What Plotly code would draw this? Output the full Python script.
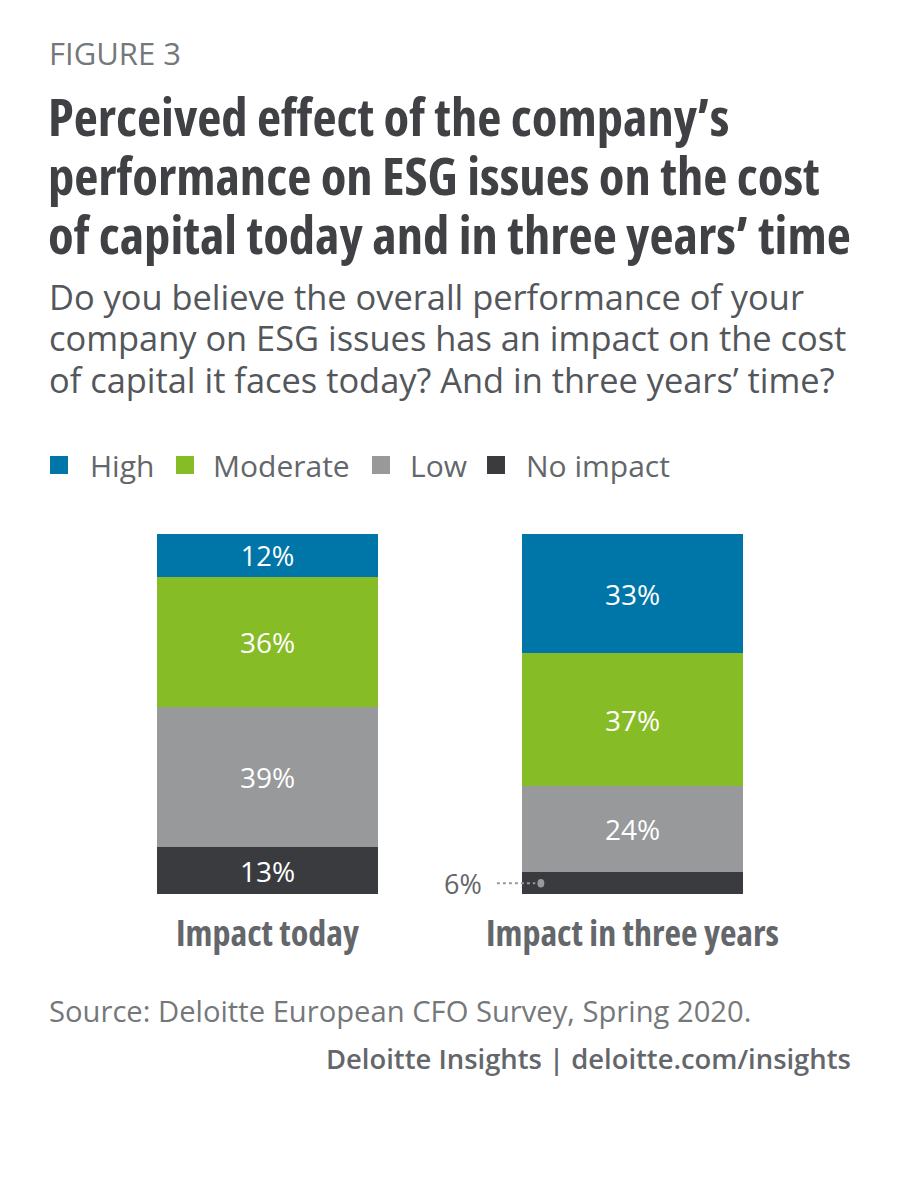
import plotly.graph_objects as go

categories = ["Impact today", "Impact in three years"]
series_names = ["No impact", "Low", "Moderate", "High"]
no_impact = [13, 6]
low = [39, 24]
moderate = [36, 37]
high = [12, 33]
colors = {"High": "#0076a8", "Moderate": "#86bc25", "Low": "#97999b", "No impact": "#3a3b3f"}
legend_order = ["High", "Moderate", "Low", "No impact"]

values = {"No impact": no_impact, "Low": low, "Moderate": moderate, "High": high}

SANS = "Open Sans, Noto Sans, sans-serif"
BAR_W = 0.603


def cond(t):
    return f"<span style=\"font-family:'Open Sans';font-stretch:75%;font-weight:700\">{t}</span>"


fig = go.Figure()
for name in series_names:
    vals = values[name]
    texts = [f"{v}%" if v >= 10 else "" for v in vals]
    fig.add_trace(go.Bar(
        x=categories, y=vals, name=name, marker=dict(color=colors[name], line=dict(width=0)),
        text=texts, textposition="inside", insidetextanchor="middle",
        textfont=dict(color="white", size=28, family=SANS), width=BAR_W,
        hoverinfo="skip",
    ))

small_idx = 1
small_val = no_impact[small_idx]
mid = small_val / 2
left_edge = small_idx - BAR_W / 2
fig.add_shape(type="line", xref="x", yref="y",
              x0=left_edge - 0.07, x1=left_edge + 0.035, y0=mid, y1=mid,
              line=dict(color="#97999b", width=2, dash="dot"))
fig.add_shape(type="circle", xref="x", yref="y",
              x0=left_edge + 0.041, x1=left_edge + 0.06, y0=mid - 1.2, y1=mid + 1.2,
              fillcolor="#97999b", line=dict(width=0))
fig.add_annotation(x=left_edge - 0.104, y=mid, xref="x", yref="y", text=f"{small_val}%",
                   showarrow=False, xanchor="right", yanchor="middle",
                   font=dict(size=27, color="#63666a", family=SANS))


def px_x(p):
    return (p - 85) / 730


def px_y(p):
    return (894 - p) / 360


legend_pos = [(50, 88), (176, 211), (372, 408), (487, 524)]
for (sq, tx), name in zip(legend_pos, legend_order):
    fig.add_shape(type="rect", xref="paper", yref="paper",
                  x0=px_x(sq), x1=px_x(sq + 18),
                  y0=px_y(474), y1=px_y(456),
                  fillcolor=colors[name], line=dict(width=0))
    fig.add_annotation(x=px_x(tx), y=px_y(465), xref="paper", yref="paper",
                       text=name, showarrow=False, xanchor="left", yanchor="middle",
                       font=dict(size=30, color="#63666a", family=SANS))

fig.add_annotation(x=px_x(47), y=px_y(53), xref="paper", yref="paper", text="FIGURE 3",
                   showarrow=False, xanchor="left", yanchor="middle",
                   font=dict(size=31, color="#75787b", family=SANS))
title_lines = ["Perceived effect of the company’s",
               "performance on ESG issues on the cost",
               "of capital today and in three years’ time"]
for i, line in enumerate(title_lines):
    fig.add_annotation(x=px_x(46), y=px_y(115 + 59 * i), xref="paper", yref="paper",
                       text=cond(line), showarrow=False, xanchor="left", yanchor="middle",
                       font=dict(size=52.6, color="#404144", family=SANS))
sub_lines = ["Do you believe the overall performance of your",
             "company on ESG issues has an impact on the cost",
             "of capital it faces today? And in three years’ time?"]
for i, line in enumerate(sub_lines):
    fig.add_annotation(x=px_x(47), y=px_y(296 + 41.5 * i), xref="paper", yref="paper",
                       text=line, showarrow=False, xanchor="left", yanchor="middle",
                       font=dict(size=34.4, color="#53565a", family=SANS))

fig.add_annotation(x=px_x(47), y=px_y(1011), xref="paper", yref="paper",
                   text="Source: Deloitte European CFO Survey, Spring 2020.",
                   showarrow=False, xanchor="left", yanchor="middle",
                   font=dict(size=29.2, color="#75787b", family=SANS))
fig.add_annotation(x=px_x(853), y=px_y(1058), xref="paper", yref="paper",
                   text="Deloitte Insights | deloitte.com/insights",
                   showarrow=False, xanchor="right", yanchor="middle",
                   font=dict(size=27.4, color="#63666a", family=SANS, weight=600))

fig.update_layout(
    barmode="stack", showlegend=False, width=900, height=1204,
    margin=dict(l=85, r=85, t=534, b=310, pad=0),
    paper_bgcolor="white", plot_bgcolor="white",
    xaxis=dict(range=[-0.5, 1.5], showgrid=False, zeroline=False, showline=False,
               ticks="", tickvals=categories, ticktext=[cond(c) for c in categories],
               tickfont=dict(size=36, color="#63666a", family=SANS),
               ticklabelstandoff=15),
    yaxis=dict(range=[0, 100], visible=False),
    bargap=0,
)

fig.write_html("out.html")
